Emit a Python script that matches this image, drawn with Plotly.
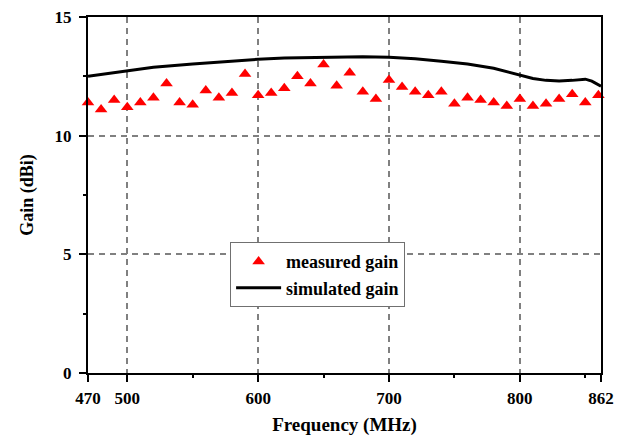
import plotly.graph_objects as go

# Measured gain, sampled every 10 MHz
meas_freq = [470, 480, 490, 500, 510, 520, 530, 540, 550, 560,
             570, 580, 590, 600, 610, 620, 630, 640, 650, 660,
             670, 680, 690, 700, 710, 720, 730, 740, 750, 760,
             770, 780, 790, 800, 810, 820, 830, 840, 850, 860]
meas_gain = [11.4, 11.1, 11.5, 11.2, 11.4, 11.6, 12.2, 11.4, 11.3, 11.9,
             11.6, 11.8, 12.6, 11.7, 11.8, 12.0, 12.5, 12.2, 13.0, 12.1,
             12.65, 11.85, 11.55, 12.35, 12.05, 11.85, 11.7, 11.85, 11.35, 11.6,
             11.5, 11.4, 11.25, 11.55, 11.25, 11.35, 11.55, 11.75, 11.4, 11.7]

# Simulated gain curve
sim_freq = [470, 480, 490, 500, 520, 550, 580, 600, 620, 650, 680, 700,
            720, 740, 760, 780, 790, 800, 810, 820, 830, 840, 850, 855, 862]
sim_gain = [12.5, 12.58, 12.66, 12.74, 12.88, 13.02, 13.15, 13.22, 13.27, 13.31, 13.33, 13.3,
            13.24, 13.14, 13.02, 12.84, 12.7, 12.54, 12.41, 12.33, 12.3, 12.33, 12.38, 12.3, 12.08]

x_ticks = [470, 500, 600, 700, 800, 862]
x_minor = [550, 650, 750, 850]
y_ticks = [0, 5, 10, 15]
y_minor = [2.5, 7.5, 12.5]

serif = "Liberation Serif"

fig = go.Figure()
fig.add_trace(go.Scatter(
    x=meas_freq, y=meas_gain, mode="markers", name="measured gain",
    marker=dict(symbol="triangle-up", size=11, color="#ff0000"),
    cliponaxis=False,
))
fig.add_trace(go.Scatter(
    x=sim_freq, y=sim_gain, mode="lines", name="simulated gain",
    line=dict(color="black", width=3),
))

axis_common = dict(
    showline=True, linecolor="black", linewidth=2, mirror=True,
    ticks="outside", tickcolor="black", tickwidth=2, ticklen=7,
    showgrid=True, gridcolor="#808080", gridwidth=1.5, griddash="6px,5px",
    zeroline=False, automargin=False,
    tickfont=dict(family=serif, size=17, color="black", weight="bold"),
)

fig.update_xaxes(
    **axis_common,
    range=[470, 862], tickmode="array", tickvals=x_ticks,
    ticktext=[str(v) for v in x_ticks], ticklabelstandoff=2,
    minor=dict(tickmode="array", tickvals=x_minor, ticks="outside",
               ticklen=3, tickwidth=2, tickcolor="black", showgrid=False),
    title=dict(text="Frequency (MHz)", standoff=12,
               font=dict(family=serif, size=19, color="black", weight="bold")),
)
fig.update_yaxes(
    **axis_common,
    range=[0, 15], tickmode="array", tickvals=y_ticks, ticklabelstandoff=4,
    minor=dict(tickmode="array", tickvals=y_minor, ticks="outside",
               ticklen=3, tickwidth=2, tickcolor="black", showgrid=False),
    title=dict(text="Gain (dBi)", standoff=16,
               font=dict(family=serif, size=18, color="black", weight="bold")),
)

fig.update_layout(
    width=631, height=436,
    margin=dict(l=88, r=30, t=17, b=63),
    paper_bgcolor="white", plot_bgcolor="white",
    showlegend=True,
    legend=dict(
        x=0.277, y=0.276, xanchor="left", yanchor="middle",
        bgcolor="white", bordercolor="#707070", borderwidth=1,
        itemwidth=45, tracegroupgap=0,
        font=dict(family=serif, size=18, color="black", weight="bold"),
    ),
)

fig.write_html("out.html")
